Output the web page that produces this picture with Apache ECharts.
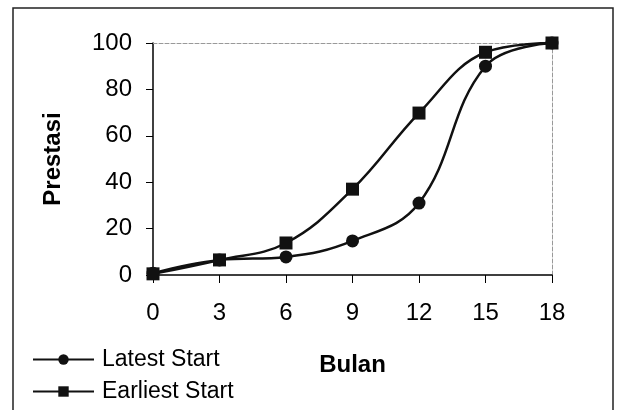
<!DOCTYPE html>
<html>
<head>
<meta charset="utf-8">
<script src="https://cdn.jsdelivr.net/npm/echarts@6/dist/echarts.min.js"></script>
<style>
html,body{margin:0;padding:0;background:#fff;}
#chart{width:622px;height:410px;}
</style>
</head>
<body>
<div id="chart"></div>
<script>
var months = [0, 3, 6, 9, 12, 15, 18];
var latestStart = [0.8, 6.5, 7.8, 14.7, 31, 90, 100];
var earliestStart = [0.5, 6.5, 13.8, 37, 69.8, 96, 100];
var seriesNames = ['Latest Start', 'Earliest Start'];

function pairs(xs, ys) { return xs.map(function (x, i) { return [x, ys[i]]; }); }

var FONT = '"Liberation Sans", Arial, sans-serif';
var chart = echarts.init(document.getElementById('chart'));
chart.setOption({
  animation: false,
  backgroundColor: '#fff',
  textStyle: { fontFamily: FONT, color: '#000' },
  grid: { left: 153, right: 70, top: 43, bottom: 135 },
  graphic: [{
    type: 'rect', shape: { x: 13, y: 8, width: 600, height: 420 },
    style: { fill: 'none', stroke: '#222', lineWidth: 1.5 }, silent: true
  }],
  legend: {
    orient: 'vertical', left: 27, top: 343, itemGap: 9,
    itemWidth: 61, itemHeight: 13,
    data: seriesNames,
    textStyle: { fontFamily: FONT, fontSize: 23, color: '#000', padding: [0, 0, 0, 3] }
  },
  xAxis: [{
    type: 'value', min: 0, max: 18, interval: 3,
    name: 'Bulan', nameLocation: 'middle', nameGap: 78,
    nameTextStyle: { fontFamily: FONT, fontSize: 24, fontWeight: 'bold', color: '#000' },
    axisLine: { show: true, onZero: false, lineStyle: { color: '#000', width: 1.5 } },
    axisTick: { show: true, inside: false, length: 8, lineStyle: { color: '#000' } },
    axisLabel: { fontFamily: FONT, fontSize: 24, color: '#000', margin: 26 },
    splitLine: { show: false }
  }, {
    type: 'value', min: 0, max: 18, position: 'top',
    axisLine: { show: true, onZero: false, lineStyle: { color: '#999', width: 1, type: 'dashed' } },
    axisTick: { show: false }, axisLabel: { show: false }, splitLine: { show: false }
  }],
  yAxis: [{
    type: 'value', min: 0, max: 100, interval: 20,
    name: 'Prestasi', nameLocation: 'middle', nameGap: 88, nameRotate: 90,
    nameTextStyle: { fontFamily: FONT, fontSize: 24, fontWeight: 'bold', color: '#000' },
    axisLine: { show: true, onZero: false, lineStyle: { color: '#000', width: 1.5 } },
    axisTick: { show: true, inside: false, length: 7, lineStyle: { color: '#000' } },
    axisLabel: { fontFamily: FONT, fontSize: 24, color: '#000', margin: 21 },
    splitLine: { show: false }
  }, {
    type: 'value', min: 0, max: 100, position: 'right',
    axisLine: { show: true, onZero: false, lineStyle: { color: '#999', width: 1, type: 'dashed' } },
    axisTick: { show: false }, axisLabel: { show: false }, splitLine: { show: false }
  }],
  series: [{
    name: seriesNames[0], type: 'line', smooth: 0.4,
    data: pairs(months, latestStart),
    symbol: 'circle', symbolSize: 13,
    lineStyle: { color: '#111', width: 2.5 },
    itemStyle: { color: '#111' }
  }, {
    name: seriesNames[1], type: 'line', smooth: 0.4,
    data: pairs(months, earliestStart),
    symbol: 'rect', symbolSize: 13,
    lineStyle: { color: '#111', width: 2.5 },
    itemStyle: { color: '#111' }
  }]
});
</script>
</body>
</html>
